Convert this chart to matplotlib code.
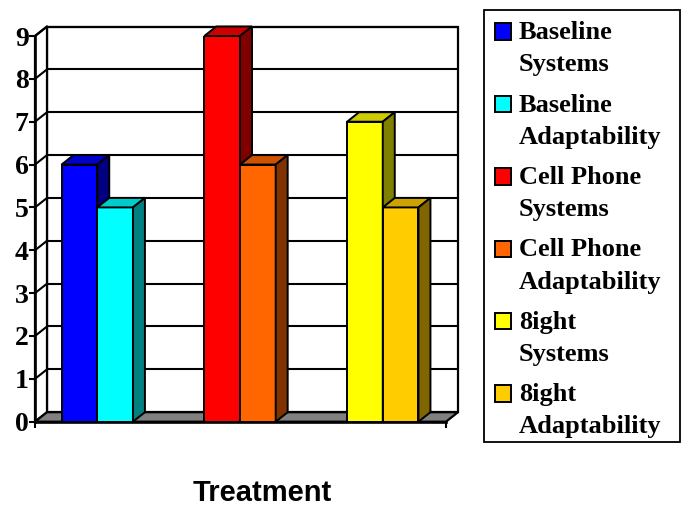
import numpy as np
import matplotlib
matplotlib.use("Agg")
import matplotlib.pyplot as plt
from matplotlib.patches import Polygon, Rectangle
from matplotlib.colors import to_rgb

# ── data ────────────────────────────────────────────────────────────────────
groups = ["Baseline", "Cell Phone", "8ight"]
measures = ["Systems", "Adaptability"]
systems_scores = [6, 9, 7]
adaptability_scores = [5, 6, 5]
y_ticks = list(range(0, 10))
x_label = "Treatment"

front_colors = {
    ("Baseline", "Systems"): "#0000FF",
    ("Baseline", "Adaptability"): "#00FFFF",
    ("Cell Phone", "Systems"): "#FF0000",
    ("Cell Phone", "Adaptability"): "#FF6600",
    ("8ight", "Systems"): "#FFFF00",
    ("8ight", "Adaptability"): "#FFCC00",
}

# ── layout (pixels) ─────────────────────────────────────────────────────────
W, H = 683, 508
AX_L, AX_R, AX_T, AX_B = 35, 446, 36, 421.7
DEPTH_X, DEPTH_Y = 12, 9.5          # oblique offset of the back plane
XLIM = (-0.436, 2.443)
YMAX = 9
BAR_W = 0.25
SERIF = "Liberation Serif"
SANS = "Liberation Sans"


def fx(px):
    return px / W


def fy(py):
    return 1 - py / H


def shade(c, k):
    r, g, b = to_rgb(c)
    return (r * k, g * k, b * k)


fig = plt.figure(figsize=(W / 100, H / 100), dpi=100)
ax = fig.add_axes([fx(AX_L), fy(AX_B), (AX_R - AX_L) / W, (AX_B - AX_T) / H])
ax.set_xlim(*XLIM)
ax.set_ylim(0, YMAX)
ax.patch.set_visible(False)

xlo, xhi = XLIM
ddx = DEPTH_X * (xhi - xlo) / (AX_R - AX_L)
ddy = DEPTH_Y * YMAX / (AX_B - AX_T)

# back wall, left wall, floor
wall_kw = dict(edgecolor="black", lw=1.6, clip_on=False, joinstyle="miter")
ax.add_patch(Rectangle((xlo + ddx, ddy), xhi - xlo, YMAX, facecolor="white",
                       zorder=1, **wall_kw))
ax.add_patch(Polygon([(xlo, 0), (xlo + ddx, ddy), (xlo + ddx, YMAX + ddy),
                      (xlo, YMAX)], facecolor="white", zorder=1, **wall_kw))
ax.add_patch(Polygon([(xlo, 0), (xhi, 0), (xhi + ddx, ddy), (xlo + ddx, ddy)],
                     facecolor="#808080", zorder=1.2, **wall_kw))

for v in y_ticks[1:]:
    ax.plot([xlo + ddx, xhi + ddx], [v + ddy, v + ddy], color="black",
            lw=1.5, zorder=1.5, clip_on=False, solid_capstyle="butt")
    ax.plot([xlo, xlo + ddx], [v, v + ddy], color="black", lw=1.5,
            zorder=1.5, clip_on=False)

# columns with top and side faces
x = np.arange(len(groups))
series = [systems_scores, adaptability_scores]
z = 3.0
for gi, g in enumerate(groups):
    for mi, m in enumerate(measures):
        col = front_colors[(g, m)]
        x0 = x[gi] + (mi - 1) * BAR_W
        x1 = x0 + BAR_W
        h = series[mi][gi]
        ax.bar(x0, h, width=BAR_W, align="edge", color=col,
               edgecolor="black", lw=1.4, zorder=z)
        ax.add_patch(Polygon([(x0, h), (x1, h), (x1 + ddx, h + ddy),
                              (x0 + ddx, h + ddy)], facecolor=shade(col, 0.8),
                             edgecolor="black", lw=1.4, zorder=z,
                             clip_on=False))
        ax.add_patch(Polygon([(x1, 0), (x1 + ddx, ddy), (x1 + ddx, h + ddy),
                              (x1, h)], facecolor=shade(col, 0.5),
                             edgecolor="black", lw=1.4, zorder=z,
                             clip_on=False))
        z += 0.1

# axes lines and ticks
for s in ["top", "right"]:
    ax.spines[s].set_visible(False)
for s in ["left", "bottom"]:
    ax.spines[s].set_linewidth(1.9)
    ax.spines[s].set_zorder(2.5)
ax.set_yticks(y_ticks)
ax.set_yticklabels([str(v) for v in y_ticks], fontfamily=SERIF,
                   fontweight="bold", fontsize=20)
ax.tick_params(axis="y", length=4, width=1.5, pad=0.5)
ax.set_xticks([xlo, xhi])
ax.set_xticklabels(["", ""])
ax.tick_params(axis="x", length=4, width=1.5)

fig.text(fx(262.5), fy(501), x_label, ha="center", va="baseline",
         fontfamily=SANS, fontweight="bold", fontsize=21)

# legend
LEG_TOP, LEG_BOT = 9.5, 442
fig.patches.append(Rectangle((fx(484), fy(LEG_BOT)), (680 - 484) / W,
                             (LEG_BOT - LEG_TOP) / H, transform=fig.transFigure,
                             facecolor="white", edgecolor="black", lw=1.3))
row = 0
for g in groups:
    for m in measures:
        top = 23.3 + 72.4 * row
        fig.patches.append(Rectangle((fx(495), fy(top + 16.5)), 16 / W,
                                     16.5 / H, transform=fig.transFigure,
                                     facecolor=front_colors[(g, m)],
                                     edgecolor="black", lw=1.4))
        base = 39.3 + 72.4 * row
        fig.text(fx(519), fy(base), g, ha="left", va="baseline",
                 fontfamily=SERIF, fontweight="bold", fontsize=19)
        fig.text(fx(519), fy(base + 32), m, ha="left", va="baseline",
                 fontfamily=SERIF, fontweight="bold", fontsize=19)
        row += 1

fig.savefig("out.png", dpi=100)
